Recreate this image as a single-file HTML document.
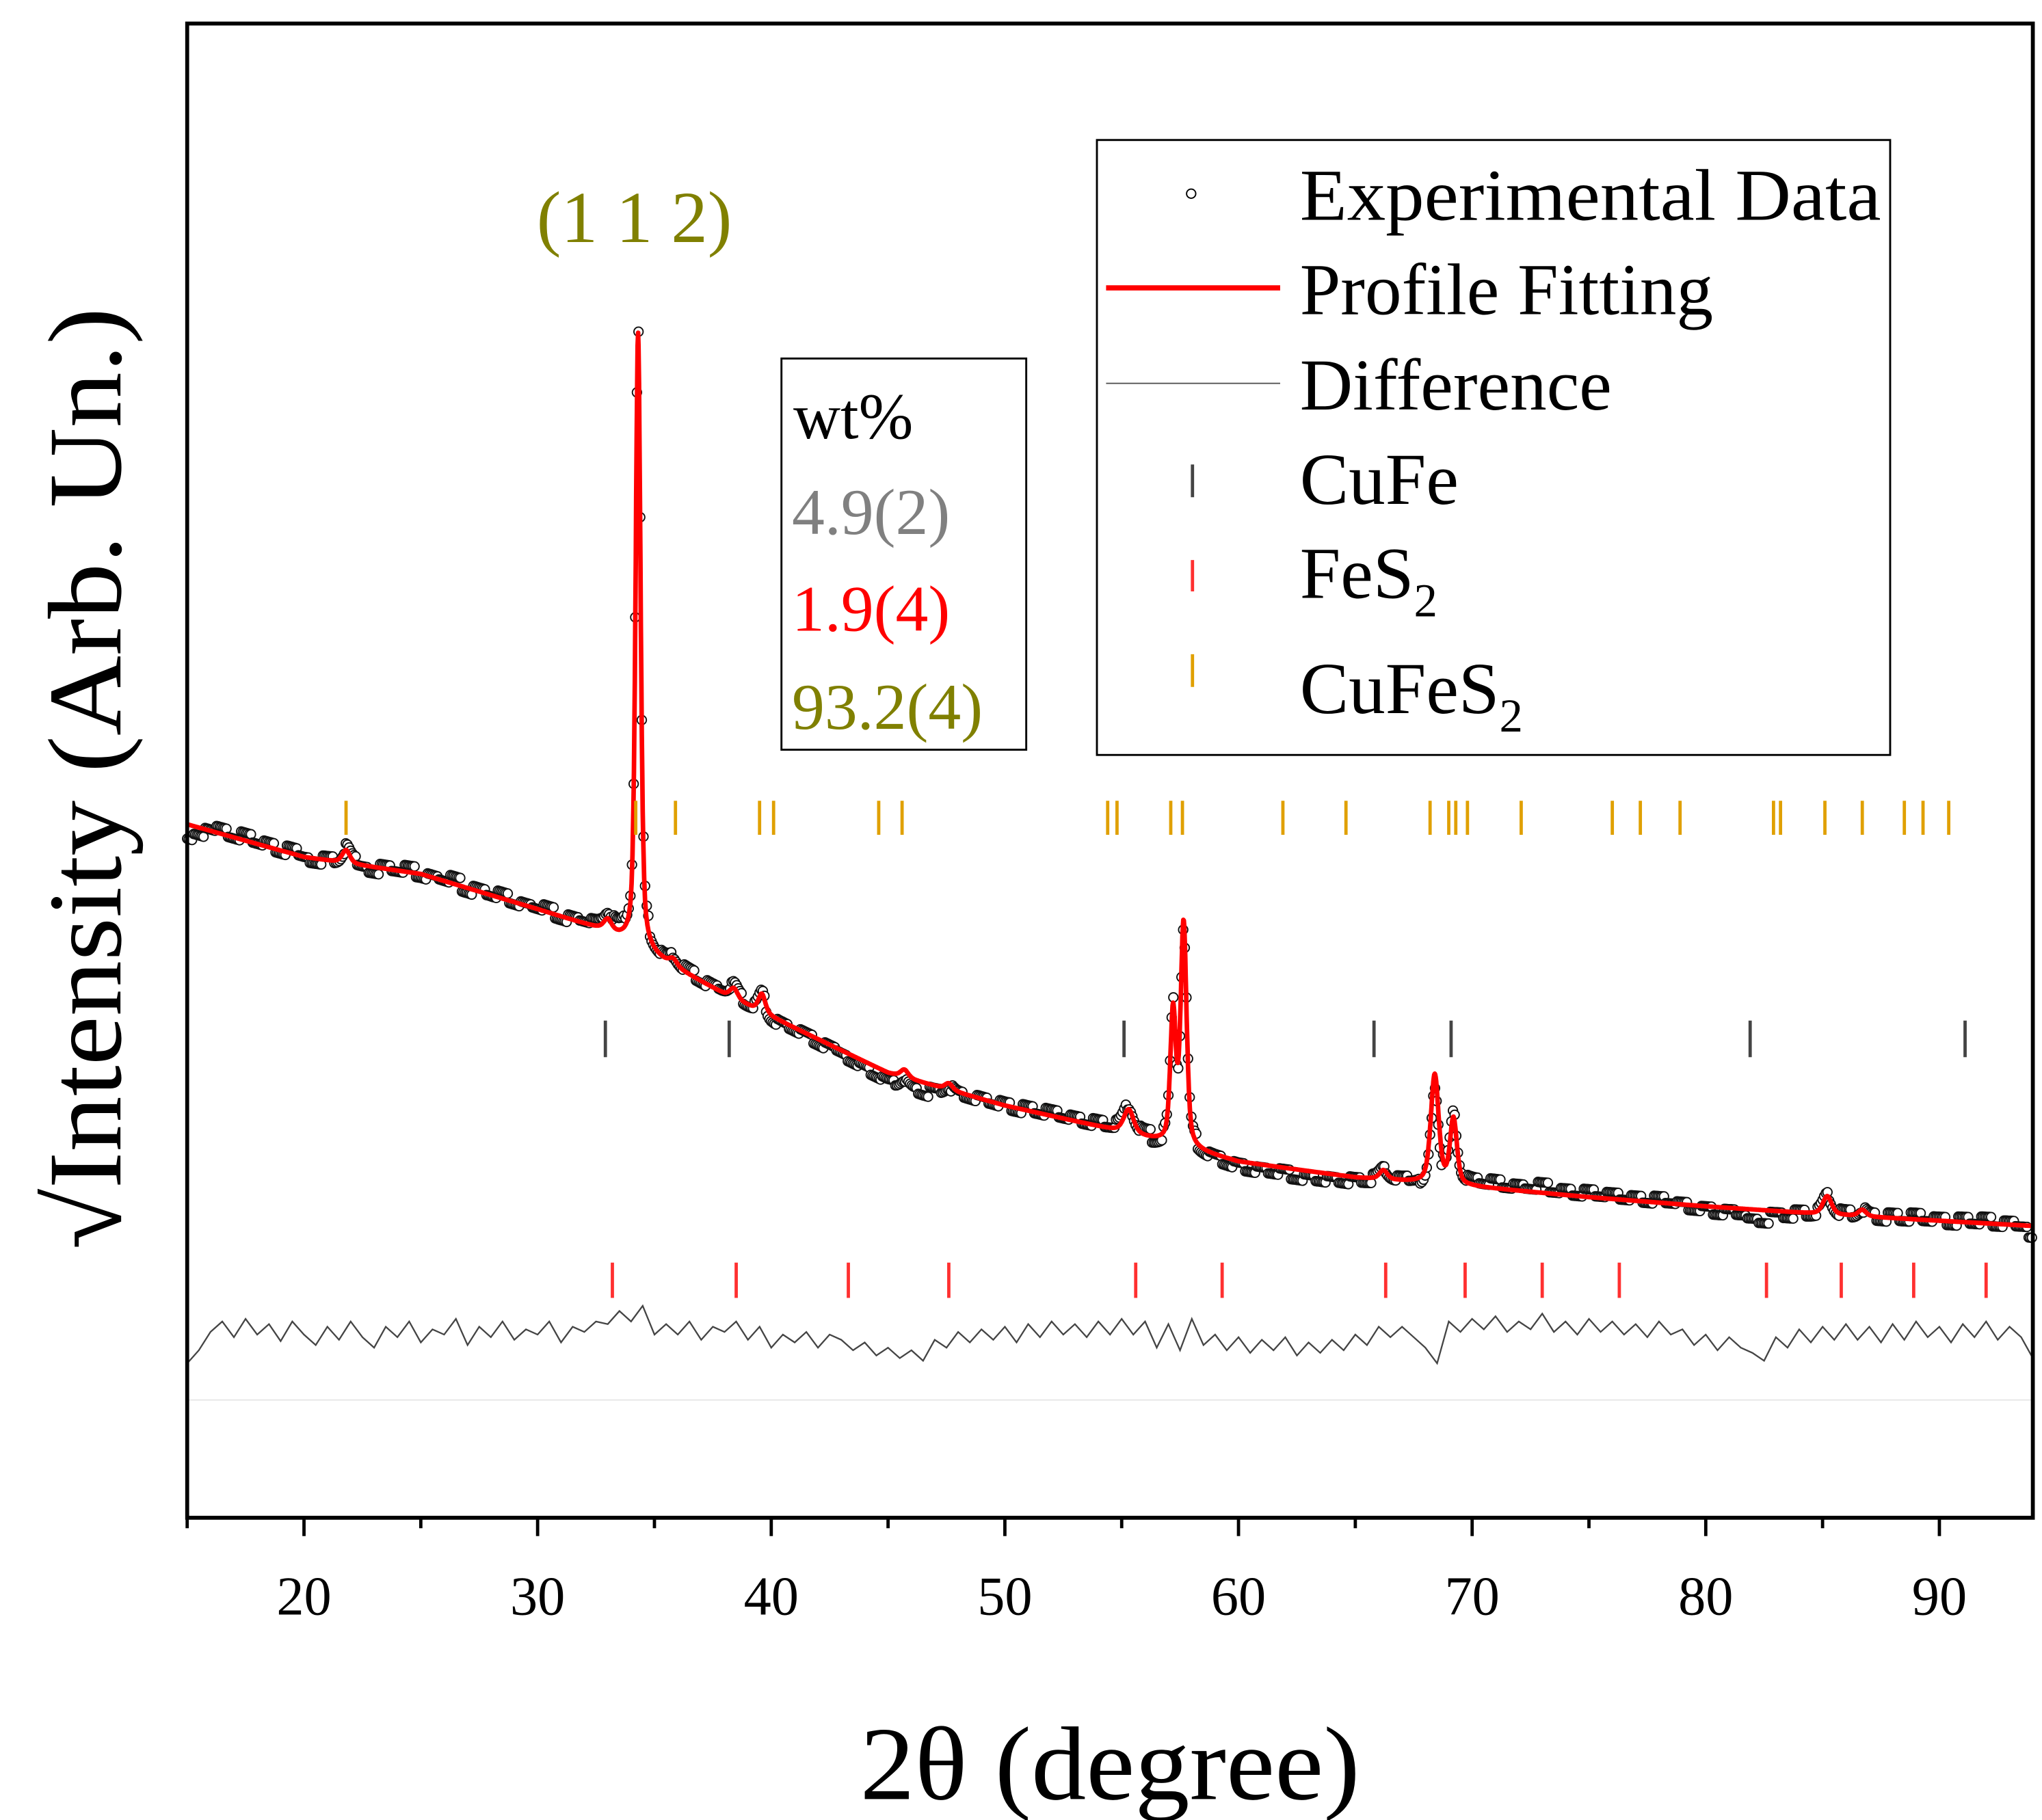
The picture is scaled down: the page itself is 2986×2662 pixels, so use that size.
<!DOCTYPE html>
<html><head><meta charset="utf-8"><style>
html,body{margin:0;padding:0;background:#fff;}
svg{display:block;font-family:"Liberation Serif","Times New Roman",serif;}
</style></head><body>
<svg id="chart" width="2986" height="2662" viewBox="0 0 1560 1391" preserveAspectRatio="none" xmlns="http://www.w3.org/2000/svg">
<rect x="0" y="0" width="1560" height="1391" fill="#fff"/>
<g id="plot"></g>
<rect x="143" y="18" width="1410" height="1142" fill="none" stroke="#000" stroke-width="3"/>
<g id="xticks"></g>
<text x="848" y="1375" font-size="80" text-anchor="middle" textLength="382" lengthAdjust="spacingAndGlyphs">2θ (degree)</text>
<text transform="translate(92,595) rotate(-90)" font-size="80" text-anchor="middle" textLength="720" lengthAdjust="spacingAndGlyphs">√Intensity (Arb. Un.)</text>
<text x="410" y="185" font-size="56" fill="#808000">(1 1 2)</text>
<g>
<rect x="597" y="274" width="187" height="299" fill="#fff" stroke="#000" stroke-width="1.5"/>
<text x="606" y="335" font-size="50">wt%</text>
<text x="605" y="408" font-size="50" fill="#808080">4.9(2)</text>
<text x="605" y="482" font-size="50" fill="#ff0000">1.9(4)</text>
<text x="605" y="557" font-size="50" fill="#808000">93.2(4)</text>
</g>
<g>
<rect x="838" y="107" width="606" height="470" fill="#fff" stroke="#000" stroke-width="1.5"/>
<circle cx="910" cy="148" r="3.5" fill="#fff" stroke="#000" stroke-width="1"/>
<text x="993" y="168" font-size="56" textLength="444" lengthAdjust="spacingAndGlyphs">Experimental Data</text>
<line x1="845" y1="220" x2="978" y2="220" stroke="#ff0000" stroke-width="4"/>
<text x="993" y="240" font-size="56">Profile Fitting</text>
<line x1="845" y1="293" x2="978" y2="293" stroke="#555" stroke-width="1"/>
<text x="993" y="313" font-size="56">Difference</text>
<line x1="911" y1="355" x2="911" y2="380" stroke="#444" stroke-width="2.5"/>
<text x="993" y="385" font-size="56">CuFe</text>
<line x1="911" y1="428" x2="911" y2="452" stroke="#ff3030" stroke-width="2.5"/>
<text x="993" y="457" font-size="56">FeS<tspan font-size="36" dy="14">2</tspan></text>
<line x1="911" y1="500" x2="911" y2="525" stroke="#e0a000" stroke-width="2.5"/>
<text x="993" y="545" font-size="56">CuFeS<tspan font-size="36" dy="14">2</tspan></text>
</g>
</svg>
<script>
const bgTheta=[15,20,25,30,33,38,45,50,55,60,65,70,75,80,85,90,94];
const bgValue=[530,505,492,465,448,400,340,315,295,272,260,253,245,238,232,227,223];
const peakTheta=[21.8,33.0,34.3,35.8,38.4,39.6,45.7,47.6,55.3,57.2,57.65,66.2,68.4,69.2,85.2,86.7];
const peakHeight=[10,8,470,5,8,14,6,5,18,100,170,7,83,50,14,5];
const peakFwhm=[0.4,0.4,0.25,0.4,0.4,0.35,0.4,0.4,0.5,0.28,0.3,0.4,0.4,0.35,0.45,0.4];
const diffValues=[118,128,142,150,138,152,140,148,135,150,140,132,146,136,150,138,130,146,138,150,134,144,140,152,132,146,138,150,136,144,140,150,134,146,142,150,148,158,150,162,140,148,140,150,136,146,142,150,136,146,130,140,134,142,130,140,136,128,134,124,130,122,128,120,136,130,142,134,144,136,146,134,148,138,150,140,148,138,150,140,152,140,150,130,148,128,152,132,140,128,138,126,136,128,138,124,134,126,136,128,140,132,146,138,146,138,130,118,150,142,152,144,154,142,150,144,156,142,150,140,152,142,150,140,148,138,150,140,144,132,140,128,138,130,126,120,138,130,144,134,146,136,148,136,146,134,148,136,150,138,146,134,148,138,150,136,146,138,122];
const diffStart=15, diffStep=0.5, diffZero=140;
const cufes2Ticks=[21.8,34.2,35.9,39.5,40.1,44.6,45.6,54.4,54.8,57.1,57.6,61.9,64.6,68.2,69.0,69.3,69.8,72.1,76.0,77.2,78.9,82.9,83.2,85.1,86.7,88.5,89.3,90.4];
const cufeTicks=[32.9,38.2,55.1,65.8,69.1,81.9,91.1];
const fes2Ticks=[33.2,38.5,43.3,47.6,55.6,59.3,66.3,69.7,73.0,76.3,82.6,85.8,88.9,92.0];
const xTickLabels=[20,30,40,50,60,70,80,90];
const xMin=15,xMax=94,yMin=0,yMax=1142;
const L=143,R=1553,T=18,B=1160;
function X(v){return L+(v-xMin)/(xMax-xMin)*(R-L);}
function Y(v){return B-(v-yMin)/(yMax-yMin)*(B-T);}
const NS="http://www.w3.org/2000/svg";
const plot=document.getElementById('plot');
function mk(tag,attrs,parent){const e=document.createElementNS(NS,tag);for(const k in attrs)e.setAttribute(k,attrs[k]);(parent||plot).appendChild(e);return e;}
function bg(t){for(let i=0;i<bgTheta.length-1;i++){if(t<=bgTheta[i+1]){const f=(t-bgTheta[i])/(bgTheta[i+1]-bgTheta[i]);return bgValue[i]+f*(bgValue[i+1]-bgValue[i]);}}return bgValue[bgValue.length-1];}
function model(t){let s=bg(t);for(let i=0;i<peakTheta.length;i++){const d=(t-peakTheta[i])/(peakFwhm[i]/2);s+=peakHeight[i]*(0.5/(1+d*d)+0.5*Math.exp(-0.693*d*d));}return s;}
function diffAt(t){const k=Math.round((t-diffStart)/diffStep);const i=Math.max(0,Math.min(diffValues.length-1,k));return diffValues[i]-diffZero;}
let dp='';diffValues.forEach((v,i)=>{dp+=(i?'L':'M')+X(diffStart+i*diffStep).toFixed(1)+','+Y(v).toFixed(1);});
const diff=mk('path',{d:dp,fill:'none',stroke:'#444',"stroke-width":1.2});


mk('line',{x1:L,x2:R,y1:1070,y2:1070,stroke:'#e6e6e6','stroke-width':1});
const g=mk('g',{});


for(let t=xMin;t<=xMax;t+=0.07){
  const c=mk('circle',{cx:X(t).toFixed(1),cy:Y(model(t)+0.5*diffAt(t)).toFixed(1),r:3.5,fill:'#fff',stroke:'#111','stroke-width':1},g);
  
  
}
let fp='';for(let t=xMin;t<=xMax+1e-9;t+=0.02){fp+=(fp?'L':'M')+X(t).toFixed(1)+','+Y(model(t)).toFixed(1);}
const fit=mk('path',{d:fp,fill:'none',stroke:'#ff0000','stroke-width':3.5,'stroke-linejoin':'round'});


function ticks(arr,y1,y2,color,name){arr.forEach(t=>{const l=mk('line',{x1:X(t),x2:X(t),y1:y1,y2:y2,stroke:color,'stroke-width':2.5});

});}
ticks(cufes2Ticks,612,638,'#e0a000','cufes2-reflection');
ticks(cufeTicks,780,808,'#444','cufe-reflection');
ticks(fes2Ticks,965,992,'#ff3030','fes2-reflection');
const xt=document.getElementById('xticks');
for(let v=15;v<=94;v+=5){const major=v%10===0;mk('line',{x1:X(v),x2:X(v),y1:B,y2:B+(major?14:8),stroke:'#000','stroke-width':2.5},xt);}
xTickLabels.forEach(v=>{const t=mk('text',{x:X(v),y:1234,'font-size':42,'text-anchor':'middle'},xt);t.textContent=v;

});
</script>
</body></html>
